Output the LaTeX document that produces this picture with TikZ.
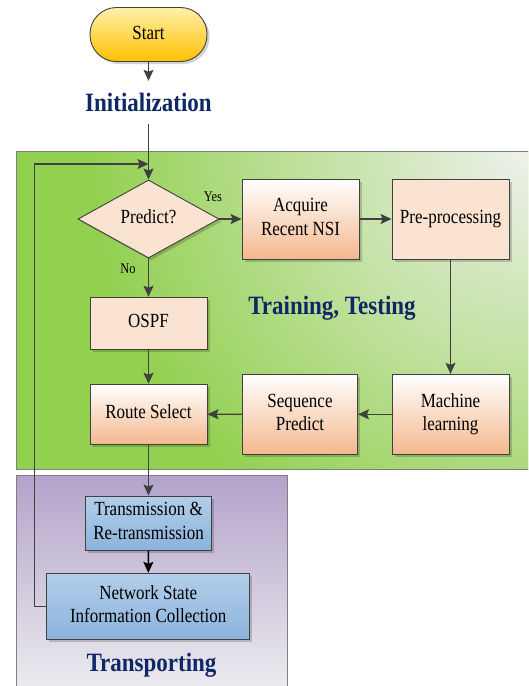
\documentclass[tikz,border=0pt]{standalone}
\usepackage{fontspec}
\setmainfont{Liberation Serif}
\usepackage{graphicx}
\usetikzlibrary{arrows.meta,shapes.geometric,shadows}

\definecolor{edge}{HTML}{404040}
\definecolor{titleblue}{RGB}{14,40,102}
\definecolor{grn}{HTML}{92D050}
\definecolor{grnlight}{HTML}{EEF1EC}
\definecolor{plum}{HTML}{B3A3CB}
\definecolor{plumlight}{HTML}{EFEFF0}
\definecolor{peach}{HTML}{F4B88E}
\definecolor{peachpale}{HTML}{FBE3D2}
\definecolor{skytop}{HTML}{B2CEEA}
\definecolor{skybot}{HTML}{8CB3DB}
\definecolor{goldtop}{HTML}{FFF0AA}
\definecolor{goldbot}{HTML}{FFC000}

% slightly tall, centred text block
\newcommand\stretched[1]{\scalebox{1}[1.18]{\begin{tabular}{@{}c@{}}#1\end{tabular}}}

\begin{document}
\begin{tikzpicture}[x=1pt,y=-1pt,
  every node/.style={font=\fontsize{17}{20}\selectfont, inner sep=0pt},
  base/.style={draw=edge, line width=0.9pt,
    drop shadow={shadow xshift=2.5pt, shadow yshift=-2.5pt, fill=black, opacity=0.18}},
  gradbox/.style={base, rectangle, top color=white, bottom color=peach,
    minimum width=117pt, minimum height=80pt},
  flatbox/.style={base, rectangle, fill=peachpale, minimum width=117pt},
  bluebox/.style={base, rectangle, top color=skytop, bottom color=skybot},
  phase/.style={font=\fontsize{23}{26}\selectfont\bfseries, text=titleblue},
  flow/.style={draw=edge, line width=1.3pt, -{Stealth[length=11pt,width=10pt,inset=2pt]}},
  small/.style={font=\fontsize{12.5}{14}\selectfont}
]
\useasboundingbox (0,0) rectangle (528,686);
\begin{scope}
\clip (0,0) rectangle (528,686);

% training / testing band
\begin{scope}
  \clip (16,151) rectangle (540,469);
  \fill[grn] (16,151) rectangle (540,469);
  \shade[inner color=grnlight, outer color=grn] (528,151) circle (440pt);
\end{scope}
\draw[gray, line width=1pt] (16,151) rectangle (540,469);

% transporting band
\shade[top color=plum, bottom color=plumlight] (16,475) rectangle (287,700);
\draw[gray, line width=1pt] (16,700) -- (16,475) -- (287,475) -- (287,700);

% steps
\node[base, rounded corners=26.5pt, minimum width=117pt, minimum height=54pt,
      top color=goldtop, bottom color=goldbot] (start) at (148.5,34.5) {\stretched{Start}};
\node[phase, minimum height=43pt] (init) at (148.5,102.5) {\scalebox{1}[1.15]{Initialization}};

\node[base, diamond, fill=peachpale, aspect=1.8, minimum width=141pt, minimum height=78pt]
      (pred) at (148.5,219) {\stretched{Predict?}};
\node[gradbox] (acq) at (300.5,219) {\stretched{Acquire\\Recent NSI}};
\node[flatbox, minimum height=80pt] (pre) at (450.5,219) {\stretched{Pre-processing}};
\node[gradbox] (ml) at (450.5,414.3) {\stretched{Machine\\learning}};
\node[gradbox, minimum width=115pt] (seq) at (300,414.3) {\stretched{Sequence\\Predict}};
\node[gradbox, minimum height=60pt] (route) at (148.5,414.2) {\stretched{Route Select}};
\node[flatbox, minimum height=52pt] (ospf) at (148.5,323.2) {\stretched{OSPF}};

\node[phase] (train) at (332,308) {\scalebox{1}[1.15]{Training, Testing}};

\node[bluebox, minimum width=126pt, minimum height=54pt] (tx) at (148.5,523)
      {\stretched{Transmission \&\\Re-transmission}};
\node[bluebox, minimum width=203pt, minimum height=66pt] (nsic) at (148.2,606.3)
      {\stretched{Network State\\Information Collection}};
\node[phase] (transp) at (151.5,665) {\scalebox{1}[1.15]{Transporting}};

\node[small] (yes) at (213,197) {\scalebox{1}[1.18]{Yes}};
\node[small] (no) at (128,269) {\scalebox{1}[1.18]{No}};

% connectors
\coordinate (merge) at (148.5,164);
\draw[flow] (start) -- (init);
\draw[flow] (init) -- (pred);
\draw[flow] (pred) -- (acq);
\draw[flow] (acq) -- (pre);
\draw[flow] (pre) -- (ml);
\draw[flow] (ml) -- (seq);
\draw[flow] (seq) -- (route);
\draw[flow] (pred) -- (ospf);
\draw[flow] (ospf) -- (route);
\draw[flow] (route) -- (tx);
\draw[flow, draw=black] (tx) -- (nsic);
\draw[flow] (nsic.west) -- ++(-12,0) |- (merge);
\end{scope}
\end{tikzpicture}
\end{document}
